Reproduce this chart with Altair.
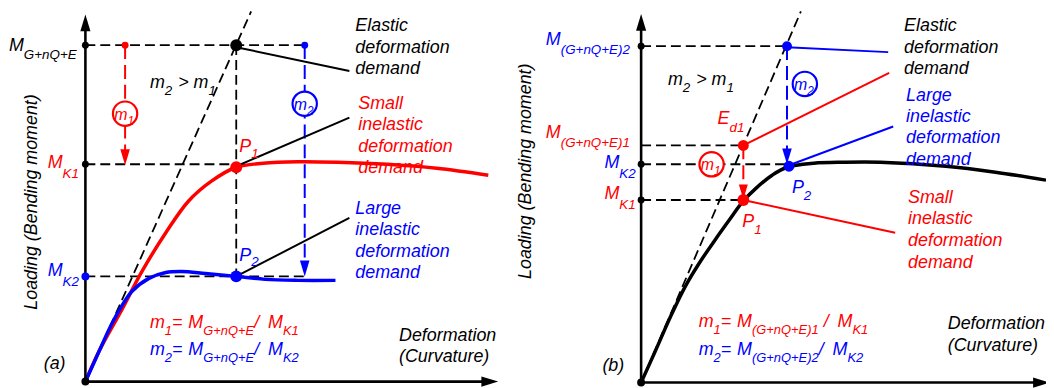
import altair as alt
import pandas as pd

RED = "#ff0000"
BLUE = "#0000ff"
BLACK = "#000000"

# ---------- curves (picture coordinates, y downwards) ----------
red_a_x = [86, 100, 123, 143, 167, 190, 213, 238, 265, 300, 340, 390, 440, 492]
red_a_y = [383, 352, 310, 272, 233, 201, 181, 167, 163, 161.5, 162, 164, 168, 175]
blue_a_x = [86, 100, 112, 122, 133, 150, 167, 183, 207, 238, 267, 300, 338]
blue_a_y = [383, 352, 326, 308, 292, 279, 273, 272, 274, 277, 280, 281, 281]
black_b_x = [646, 660, 675, 690, 705, 720, 735, 749, 763, 778, 793, 820, 850, 887, 953, 1003, 1054]
black_b_y = [384, 353, 319, 288, 263, 241, 220, 201, 187, 175, 167, 163, 162, 162, 166, 172, 180]

# ---------- straight segments: (x1, y1, x2, y2) ----------
dashed_black = [
    (86, 44, 307, 44), (86, 164, 238, 164), (86, 277, 307, 277), (238, 44, 238, 277),
    (86, 383, 253, 10),
    (646, 45, 793, 45), (646, 145, 749, 145), (646, 164, 793, 164), (646, 200, 749, 200),
    (646, 384, 807, 10),
]
dashed_color = [
    (126, 44, 126, 152, RED), (307, 44, 307, 263, BLUE),
    (749, 145, 749, 188, RED), (793, 45, 793, 152, BLUE),
]
thin_lines = [
    (238, 46, 352, 70, BLACK), (238, 166, 352, 117, BLACK), (238, 277, 352, 218, BLACK),
    (793, 46, 895, 51, BLUE), (749, 145, 896, 72, RED),
    (795, 165, 900, 126, BLUE), (749, 200, 902, 233, RED),
]
axes_lines = [
    (86, 383, 86, 22), (86, 383, 490, 383),
    (646, 384, 646, 22), (646, 384, 1050, 384),
]

# arrowheads: (x, y, angle, length, color)
arrow_heads = [
    (86, 21.5, 0, 17, BLACK), (493.5, 383, 90, 17, BLACK),
    (646, 21, 0, 17, BLACK), (1049.5, 384, 90, 17, BLACK),
    (126, 157, 180, 16, RED), (307, 269, 180, 16, BLUE),
    (749, 192, 180, 15, RED), (793, 156, 180, 16, BLUE),
]

# dots: (x, y, diameter, color)
dots = [
    (86, 44, 7, BLACK), (86, 164, 7, BLACK), (86, 277, 8, BLUE), (86, 383, 8, BLACK),
    (126, 44, 7, RED), (307, 44, 7, BLUE), (238, 44, 12, BLACK),
    (238, 167, 12, RED), (238, 277, 12, BLUE),
    (646, 45, 7, BLACK), (646, 164, 7, BLACK), (646, 200, 7, BLACK), (646, 384, 8, BLACK),
    (793, 45, 10, BLUE), (749, 145, 11, RED), (795, 166, 11, BLUE), (749, 200, 12, RED),
]

# circled labels: (x, y, color)
circles = [(126, 113, RED), (307, 103, BLUE), (717, 164, RED), (811, 83, BLUE)]

# ---------- texts ----------
EM = {"M": .833, "m": .833, "G": .778, "Q": .778, "E": .667, "K": .667, "n": .556,
      "+": .584, "=": .584, "/": .278, " ": .278, "(": .333, ")": .333, "1": .556,
      "2": .556, ">": .584, "P": .667, "d": .556}

# (x_left, baseline, [(text, is_subscript, extra_gap)], color, main_size, sub_size, sub_drop)
label_runs = [
    (9, 50, [("M", 0), ("G+nQ+E", 1)], BLACK, 18, 13.5, 8),
    (48, 168, [("M", 0), ("K1", 1)], RED, 18, 13.5, 10),
    (48, 277, [("M", 0), ("K2", 1)], BLUE, 18, 13.5, 10),
    (241, 152, [("P", 0), ("1", 1)], RED, 18, 13.5, 6),
    (241, 261, [("P", 0), ("2", 1)], BLUE, 18, 13.5, 6),
    (151, 87, [("m", 0), ("2", 1), (">", 0, 6), ("m", 0, 5), ("1", 1)], BLACK, 18, 13.5, 7),
    (151, 329, [("m", 0), ("1", 1), ("=", 0), ("M", 0, 6), ("G+nQ+E", 1), ("/", 0), ("M", 0, 9), ("K1", 1)], RED, 18, 13, 7),
    (151, 356, [("m", 0), ("2", 1), ("=", 0), ("M", 0, 6), ("G+nQ+E", 1), ("/", 0), ("M", 0, 9), ("K2", 1)], BLUE, 18, 13, 7),
    (115, 119, [("m", 0), ("1", 1)], RED, 16, 12, 5),
    (296, 109, [("m", 0), ("2", 1)], BLUE, 16, 12, 5),
    (550, 44, [("M", 0), ("(G+nQ+E)2", 1)], BLUE, 18, 13.5, 9),
    (550, 138, [("M", 0), ("(G+nQ+E)1", 1)], RED, 18, 13.5, 9),
    (609, 168, [("M", 0), ("K2", 1)], BLUE, 18, 13.5, 10),
    (609, 199, [("M", 0), ("K1", 1)], RED, 18, 13.5, 10),
    (673, 84, [("m", 0), ("2", 1), (">", 0, 6), ("m", 0, 5), ("1", 1)], BLACK, 18, 13.5, 7),
    (723, 123, [("E", 0), ("d1", 1)], RED, 18, 13.5, 8),
    (748, 227, [("P", 0), ("1", 1)], RED, 18, 13.5, 7),
    (798, 193, [("P", 0), ("2", 1)], BLUE, 18, 13.5, 7),
    (706, 170, [("m", 0), ("1", 1)], RED, 16, 12, 5),
    (800, 89, [("m", 0), ("2", 1)], BLUE, 16, 12, 5),
    (704, 328, [("m", 0), ("1", 1), ("=", 0), ("M", 0, 6), ("(G+nQ+E)1", 1), ("/", 0, 5), ("M", 0, 9), ("K1", 1)], RED, 18, 13, 7),
    (704, 356, [("m", 0), ("2", 1), ("=", 0), ("M", 0, 6), ("(G+nQ+E)2", 1), ("/", 0), ("M", 0, 9), ("K2", 1)], BLUE, 18, 13, 7),
]

# plain text blocks: (x_left, first_baseline, line_step, lines, color)
text_blocks = [
    (358, 30, 21.5, ["Elastic", "deformation", "demand"], BLACK),
    (361, 108, 21.7, ["Small", "inelastic", "deformation", "demand"], RED),
    (358, 214, 21.7, ["Large", "inelastic", "deformation", "demand"], BLUE),
    (402, 342, 21, ["Deformation", "(Curvature)"], BLACK),
    (44, 370, 0, ["(a)"], BLACK),
    (911, 30, 21.5, ["Elastic", "deformation", "demand"], BLACK),
    (913, 100, 21.5, ["Large", "inelastic", "deformation", "demand"], BLUE),
    (915, 203, 21.7, ["Small", "inelastic", "deformation", "demand"], RED),
    (955, 330, 22, ["Deformation", "(Curvature)"], BLACK),
    (607, 372, 0, ["(b)"], BLACK),
]

# rotated axis titles: (x_center, y_center, text)
axis_titles = [(32, 202, "Loading (Bending moment)"), (530, 171, "Loading (Bending moment)")]

# ---------- build tables ----------
def seg_table(segs):
    rows = []
    for g, s in enumerate(segs):
        c = s[4] if len(s) > 4 else BLACK
        rows.append({"g": g, "i": 0, "x": s[0], "y": s[1], "c": c})
        rows.append({"g": g, "i": 1, "x": s[2], "y": s[3], "c": c})
    return pd.DataFrame(rows)

curve_rows = []
for g, (xs, ys, c) in enumerate([(red_a_x, red_a_y, RED), (blue_a_x, blue_a_y, BLUE),
                                 (black_b_x, black_b_y, BLACK)]):
    for i, (x, y) in enumerate(zip(xs, ys)):
        curve_rows.append({"g": g, "i": i, "x": x, "y": y, "c": c})
curves_df = pd.DataFrame(curve_rows)

text_rows = []
for x0, yb, parts, c, ms, ss, dy in label_runs:
    x = x0
    for p in parts:
        t, sub = p[0], p[1]
        x += p[2] if len(p) > 2 else 0
        size = ss if sub else ms
        text_rows.append({"x": x, "y": yb + (dy if sub else 0), "t": t, "c": c, "s": size})
        x += sum(EM.get(ch, .556) for ch in t) * size
for x0, yb, step, lines, c in text_blocks:
    for k, t in enumerate(lines):
        text_rows.append({"x": x0, "y": yb + k * step, "t": t, "c": c, "s": 18})
text_df = pd.DataFrame(text_rows)

X = alt.Scale(domain=[8, 1054], nice=False, zero=False)
Y = alt.Scale(domain=[8, 388], reverse=True, nice=False, zero=False)

def xy():
    return dict(x=alt.X("x:Q", scale=X, axis=None), y=alt.Y("y:Q", scale=Y, axis=None))

def line_layer(df, width, dash=None, interp="linear"):
    kw = dict(strokeWidth=width, interpolate=interp, strokeCap="butt")
    if dash:
        kw["strokeDash"] = dash
    return alt.Chart(df).mark_line(**kw).encode(
        **xy(), color=alt.Color("c:N", scale=None), detail="g:N", order="i:Q")

layers = [
    line_layer(seg_table(dashed_black), 1.8, [10, 5]),
    line_layer(seg_table(dashed_color), 2, [14, 6]),
    line_layer(curves_df, 3.5, interp="catmull-rom"),
    line_layer(seg_table(thin_lines), 2),
    line_layer(seg_table(axes_lines), 2.6),
]

heads_df = pd.DataFrame([{"x": a[0], "y": a[1], "a": a[2], "s": a[3] ** 2, "c": a[4]} for a in arrow_heads])
layers.append(alt.Chart(heads_df).mark_point(
    shape="M0,-1L0.6,1L-0.6,1Z", filled=True, opacity=1, strokeWidth=0).encode(
    **xy(), angle=alt.Angle("a:Q", scale=None), size=alt.Size("s:Q", scale=None),
    color=alt.Color("c:N", scale=None)))

circ_df = pd.DataFrame([{"x": c[0], "y": c[1], "c": c[2]} for c in circles])
layers.append(alt.Chart(circ_df).mark_point(
    shape="circle", size=600, fill="white", fillOpacity=1, opacity=1, strokeWidth=2.2).encode(
    **xy(), stroke=alt.Stroke("c:N", scale=None)))

dots_df = pd.DataFrame([{"x": d[0], "y": d[1], "s": d[2] ** 2, "c": d[3]} for d in dots])
layers.append(alt.Chart(dots_df).mark_point(shape="circle", filled=True, opacity=1).encode(
    **xy(), size=alt.Size("s:Q", scale=None), color=alt.Color("c:N", scale=None)))

layers.append(alt.Chart(text_df).mark_text(
    align="left", baseline="alphabetic", font="Liberation Sans", fontStyle="italic").encode(
    **xy(), text="t:N", size=alt.Size("s:Q", scale=None), color=alt.Color("c:N", scale=None)))

title_df = pd.DataFrame([{"x": a[0], "y": a[1], "t": a[2]} for a in axis_titles])
layers.append(alt.Chart(title_df).mark_text(
    angle=270, align="center", baseline="middle", font="Liberation Sans", fontStyle="italic",
    fontSize=18, color=BLACK).encode(**xy(), text="t:N"))

chart = alt.layer(*layers).properties(
    width=1046, height=380, padding=0,
    autosize=alt.AutoSizeParams(type="none", contains="padding"),
).configure_view(strokeWidth=0)

chart.save("out.html", embed_options={"renderer": "svg", "actions": False})
